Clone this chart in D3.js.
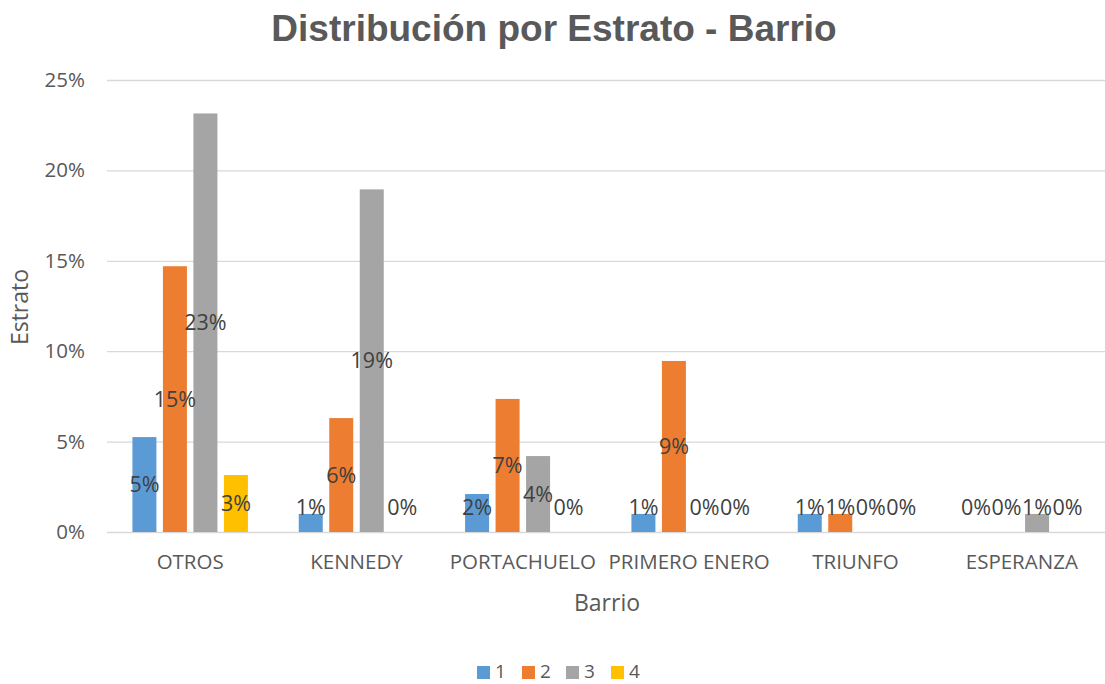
<!DOCTYPE html>
<html><head><meta charset="utf-8">
<script src="https://cdn.jsdelivr.net/npm/d3@7"></script>
<style>body{margin:0;background:#fff;} svg{display:block;}</style>
</head><body>
<svg id="c" width="1105" height="684"></svg>
<script>
const categories = ["OTROS","KENNEDY","PORTACHUELO","PRIMERO ENERO","TRIUNFO","ESPERANZA"];
const seriesNames = ["1","2","3","4"];
const s1 = [5.25, 1.0, 2.1, 1.0, 1.0, 0];
const s2 = [14.7, 6.3, 7.36, 9.46, 1.0, 0];
const s3 = [23.15, 18.95, 4.2, 0, 0, 1.0];
const s4 = [3.15, 0, 0, 0, 0, 0];
const yTicks = [0,5,10,15,20,25];
const colors = ["#5B9BD5","#ED7D31","#A5A5A5","#FFC000"];
const seriesVals = [s1,s2,s3,s4];

const svg = d3.select("#c");
const W=1105,H=684;
const m={l:107,r:0,t:80,b:152};
const FF="Open Sans, sans-serif";
const x0 = d3.scaleBand().domain(categories).range([m.l,W-m.r]).paddingInner(0).paddingOuter(0);
const bw=24, step=30.5;
const y = d3.scaleLinear().domain([0,25]).range([H-m.b, m.t]);

svg.append("text").attr("x",554).attr("y",41).attr("text-anchor","middle")
  .attr("font-family","Liberation Sans, Arial").attr("font-weight","bold").attr("font-size",37).attr("fill","#595959")
  .text("Distribución por Estrato - Barrio");

const yAxis = d3.axisLeft(y).tickValues(yTicks).tickFormat(d=>d+"%").tickSize(-(W-m.l-m.r)).tickPadding(22);
const ga = svg.append("g").attr("transform",`translate(${m.l},0)`).call(yAxis);
ga.select(".domain").remove();
ga.selectAll("line").attr("stroke","#d9d9d9").attr("stroke-width",1.3);
ga.selectAll("text").attr("font-family",FF).attr("font-size",20.5).attr("fill","#595959");

seriesVals.forEach((vals,si)=>{
  const off = (si-1.5)*step;
  svg.append("g").selectAll("rect").data(categories).join("rect")
    .attr("x",(c)=>x0(c)+x0.bandwidth()/2+off-bw/2)
    .attr("width",bw)
    .attr("y",(c,i)=>y(vals[i]))
    .attr("height",(c,i)=>y(0)-y(vals[i]))
    .attr("fill",colors[si]);
});
seriesVals.forEach((vals,si)=>{
  const off = (si-1.5)*step;
  svg.append("g").selectAll("text").data(categories).join("text")
    .attr("x",(c)=>x0(c)+x0.bandwidth()/2+off)
    .attr("y",(c,i)=>Math.min((y(vals[i])+y(0))/2, y(0)-25))
    .attr("dy","0.35em")
    .attr("text-anchor","middle")
    .attr("font-family",FF).attr("font-size",21.5).attr("fill","#404040")
    .text((c,i)=>Math.round(vals[i])+"%");
});

svg.append("g").selectAll("text").data(categories).join("text")
  .attr("x",c=>x0(c)+x0.bandwidth()/2).attr("y",562)
  .attr("dy","0.35em").attr("text-anchor","middle")
  .attr("font-family",FF).attr("font-size",20.5).attr("fill","#595959")
  .text(d=>d);

svg.append("text").attr("x",607).attr("y",603).attr("dy","0.35em").attr("text-anchor","middle")
  .attr("font-family",FF).attr("font-size",23).attr("fill","#595959").text("Barrio");
svg.append("text").attr("transform","translate(20,307) rotate(-90)").attr("dy","0.35em").attr("text-anchor","middle")
  .attr("font-family",FF).attr("font-size",23).attr("fill","#595959").text("Estrato");

const lg = svg.append("g");
const lx = [477,522,566,611];
seriesNames.forEach((n,i)=>{
  lg.append("rect").attr("x",lx[i]).attr("y",666).attr("width",13).attr("height",13).attr("fill",colors[i]);
  lg.append("text").attr("x",lx[i]+18).attr("y",671).attr("dy","0.35em")
    .attr("font-family",FF).attr("font-size",19).attr("fill","#595959").text(n);
});
</script>
</body></html>
